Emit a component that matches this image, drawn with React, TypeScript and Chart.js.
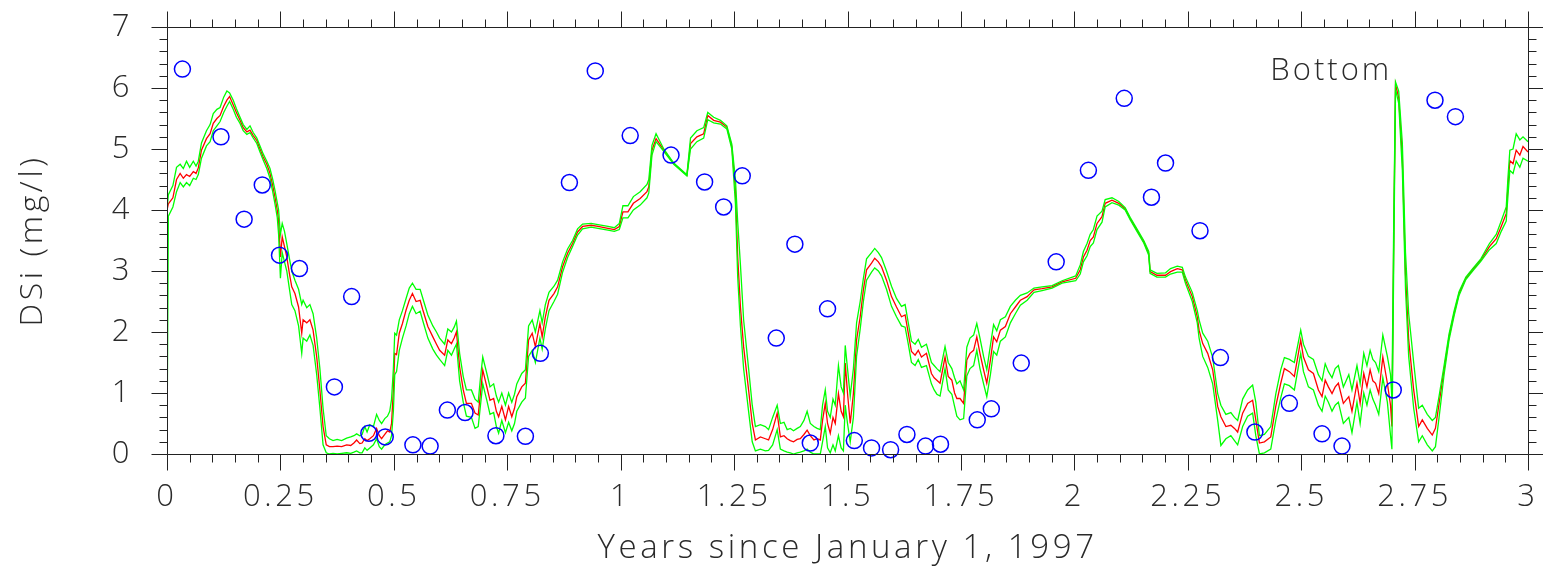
import React, { useEffect, useRef } from 'react';
import { Chart, registerables } from 'chart.js';

Chart.register(...registerables);

// Time (years since January 1, 1997)
const T = [
  0, 0.003, 0.013, 0.021, 0.029, 0.036, 0.043, 0.050, 0.058, 0.064,
  0.069, 0.076, 0.087, 0.095, 0.102, 0.110, 0.117, 0.125, 0.132, 0.138,
  0.146, 0.153, 0.161, 0.168, 0.176, 0.183, 0.190, 0.198, 0.205, 0.212,
  0.220, 0.227, 0.233, 0.238, 0.243, 0.246, 0.250, 0.254, 0.259, 0.264,
  0.270, 0.275, 0.282, 0.290, 0.297, 0.300, 0.308, 0.315, 0.322, 0.330,
  0.337, 0.344, 0.351, 0.358, 0.366, 0.375, 0.385, 0.396, 0.405, 0.412,
  0.418, 0.425, 0.430, 0.436, 0.441, 0.447, 0.455, 0.462, 0.468, 0.473,
  0.480, 0.486, 0.491, 0.495, 0.499, 0.502, 0.506, 0.512, 0.519, 0.527,
  0.534, 0.541, 0.549, 0.558, 0.564, 0.575, 0.586, 0.594, 0.601, 0.612,
  0.619, 0.627, 0.633, 0.638, 0.645, 0.653, 0.660, 0.671, 0.679, 0.686,
  0.691, 0.696, 0.705, 0.712, 0.720, 0.726, 0.731, 0.738, 0.746, 0.753,
  0.760, 0.766, 0.771, 0.782, 0.790, 0.797, 0.805, 0.812, 0.822, 0.827,
  0.834, 0.842, 0.853, 0.861, 0.872, 0.883, 0.894, 0.905, 0.916, 0.935,
  0.950, 0.972, 0.986, 0.997, 1.005, 1.016, 1.028, 1.043, 1.058, 1.062,
  1.069, 1.078, 1.095, 1.117, 1.146, 1.154, 1.168, 1.183, 1.192, 1.205,
  1.220, 1.234, 1.245, 1.253, 1.258, 1.264, 1.271, 1.282, 1.290, 1.297,
  1.308, 1.319, 1.326, 1.335, 1.345, 1.352, 1.360, 1.367, 1.374, 1.381,
  1.389, 1.396, 1.404, 1.411, 1.418, 1.426, 1.433, 1.440, 1.445, 1.451,
  1.456, 1.462, 1.468, 1.473, 1.480, 1.486, 1.491, 1.495, 1.500, 1.506,
  1.513, 1.520, 1.528, 1.535, 1.542, 1.553, 1.560, 1.568, 1.575, 1.586,
  1.597, 1.608, 1.619, 1.627, 1.634, 1.641, 1.649, 1.656, 1.663, 1.674,
  1.685, 1.691, 1.697, 1.704, 1.715, 1.722, 1.730, 1.736, 1.741, 1.748,
  1.756, 1.763, 1.770, 1.778, 1.785, 1.792, 1.800, 1.807, 1.815, 1.822,
  1.829, 1.837, 1.848, 1.859, 1.870, 1.881, 1.896, 1.911, 1.929, 1.951,
  1.973, 2.003, 2.013, 2.020, 2.028, 2.035, 2.042, 2.050, 2.061, 2.068,
  2.083, 2.098, 2.112, 2.123, 2.138, 2.153, 2.164, 2.167, 2.182, 2.201,
  2.212, 2.227, 2.238, 2.245, 2.260, 2.271, 2.275, 2.283, 2.294, 2.305,
  2.316, 2.323, 2.334, 2.345, 2.353, 2.360, 2.371, 2.382, 2.393, 2.400,
  2.408, 2.419, 2.433, 2.444, 2.455, 2.463, 2.474, 2.485, 2.499, 2.505,
  2.516, 2.527, 2.538, 2.546, 2.553, 2.560, 2.568, 2.575, 2.582, 2.593,
  2.605, 2.612, 2.623, 2.630, 2.638, 2.645, 2.652, 2.658, 2.664, 2.671,
  2.680, 2.690, 2.697, 2.700, 2.704, 2.708, 2.715, 2.723, 2.730, 2.737,
  2.748, 2.759, 2.767, 2.778, 2.789, 2.796, 2.804, 2.815, 2.826, 2.837,
  2.848, 2.863, 2.878, 2.896, 2.915, 2.930, 2.941, 2.952, 2.956, 2.960,
  2.967, 2.974, 2.982, 2.989, 3.000,
];

// Model DSi (mg/l), red
const MODEL = [
  4.00, 4.10, 4.20, 4.50, 4.60, 4.52, 4.58, 4.55, 4.63, 4.60,
  4.69, 4.98, 5.17, 5.25, 5.42, 5.50, 5.55, 5.70, 5.80, 5.86,
  5.72, 5.60, 5.47, 5.35, 5.28, 5.31, 5.22, 5.14, 5.00, 4.87,
  4.75, 4.60, 4.40, 4.21, 4.00, 3.83, 3.23, 3.56, 3.40, 3.23,
  2.95, 2.74, 2.63, 2.41, 1.98, 2.20, 2.15, 2.20, 2.03, 1.59,
  1.05, 0.45, 0.15, 0.12, 0.12, 0.13, 0.12, 0.15, 0.14, 0.18,
  0.23, 0.17, 0.18, 0.25, 0.22, 0.25, 0.30, 0.42, 0.30, 0.25,
  0.32, 0.38, 0.36, 0.50, 1.05, 1.65, 1.63, 1.98, 2.14, 2.36,
  2.52, 2.63, 2.50, 2.52, 2.36, 2.09, 1.92, 1.80, 1.70, 1.62,
  1.87, 1.81, 1.90, 2.00, 1.43, 1.05, 0.83, 0.83, 0.67, 0.64,
  1.00, 1.38, 1.10, 0.88, 0.91, 0.70, 0.61, 0.78, 0.56, 0.78,
  0.61, 0.75, 0.94, 1.10, 1.16, 1.87, 1.98, 1.76, 2.14, 1.92,
  2.25, 2.52, 2.63, 2.74, 3.07, 3.29, 3.45, 3.64, 3.73, 3.75,
  3.73, 3.70, 3.68, 3.73, 3.97, 3.97, 4.11, 4.19, 4.30, 4.38,
  4.98, 5.17, 4.98, 4.76, 4.57, 5.09, 5.20, 5.25, 5.55, 5.47,
  5.44, 5.36, 5.04, 4.32, 3.23, 2.41, 1.76, 1.05, 0.50, 0.23,
  0.28, 0.25, 0.23, 0.40, 0.67, 0.28, 0.30, 0.25, 0.22, 0.20,
  0.24, 0.25, 0.32, 0.39, 0.30, 0.23, 0.25, 0.23, 0.55, 0.83,
  0.50, 0.34, 0.60, 0.50, 0.99, 0.70, 0.61, 1.49, 1.00, 0.50,
  0.99, 1.87, 2.25, 2.69, 3.02, 3.13, 3.21, 3.15, 3.07, 2.85,
  2.58, 2.41, 2.25, 2.28, 1.98, 1.68, 1.62, 1.70, 1.59, 1.65,
  1.32, 1.25, 1.21, 1.16, 1.59, 1.27, 1.21, 1.00, 0.91, 0.91,
  0.83, 1.54, 1.65, 1.70, 1.92, 1.65, 1.38, 1.16, 1.54, 1.92,
  1.84, 2.03, 2.09, 2.30, 2.41, 2.52, 2.58, 2.69, 2.71, 2.74,
  2.82, 2.88, 3.02, 3.23, 3.34, 3.50, 3.56, 3.78, 3.89, 4.11,
  4.16, 4.11, 4.02, 3.86, 3.67, 3.48, 3.29, 2.99, 2.93, 2.93,
  2.99, 3.04, 3.02, 2.85, 2.58, 2.25, 2.03, 1.81, 1.65, 1.38,
  0.78, 0.61, 0.45, 0.47, 0.42, 0.36, 0.67, 0.83, 0.88, 0.56,
  0.18, 0.20, 0.28, 0.78, 1.16, 1.40, 1.35, 1.27, 1.87, 1.59,
  1.38, 1.32, 1.05, 0.94, 1.21, 1.10, 0.99, 1.10, 1.16, 0.83,
  0.94, 0.70, 1.16, 0.83, 1.32, 1.10, 1.38, 1.20, 1.16, 0.99,
  1.59, 1.16, 0.80, 0.45, 3.50, 6.06, 5.84, 4.86, 2.95, 1.87,
  1.05, 0.45, 0.56, 0.42, 0.31, 0.42, 0.83, 1.38, 1.92, 2.30,
  2.63, 2.88, 3.02, 3.18, 3.40, 3.53, 3.73, 3.94, 4.40, 4.81,
  4.76, 4.98, 4.90, 5.04, 4.95,
];

// Upper bound, green
const UPPER = [
  4.00, 4.25, 4.40, 4.70, 4.75, 4.68, 4.80, 4.70, 4.80, 4.72,
  4.80, 5.10, 5.30, 5.40, 5.58, 5.65, 5.68, 5.85, 5.95, 5.92,
  5.80, 5.66, 5.52, 5.40, 5.32, 5.38, 5.27, 5.18, 5.05, 4.92,
  4.80, 4.68, 4.50, 4.32, 4.12, 4.00, 3.60, 3.78, 3.65, 3.45,
  3.20, 3.00, 2.85, 2.70, 2.45, 2.52, 2.40, 2.45, 2.30, 1.90,
  1.40, 0.75, 0.30, 0.25, 0.22, 0.24, 0.22, 0.26, 0.28, 0.30,
  0.33, 0.30, 0.32, 0.45, 0.36, 0.48, 0.45, 0.65, 0.55, 0.50,
  0.58, 0.62, 0.70, 0.90, 1.40, 1.98, 1.95, 2.20, 2.35, 2.55,
  2.72, 2.80, 2.70, 2.70, 2.55, 2.28, 2.10, 2.00, 1.90, 1.80,
  2.05, 2.00, 2.08, 2.18, 1.65, 1.27, 1.05, 1.05, 0.90, 0.85,
  1.25, 1.59, 1.32, 1.10, 1.15, 0.95, 0.85, 1.00, 0.80, 1.00,
  0.85, 0.98, 1.15, 1.32, 1.38, 2.10, 2.20, 2.00, 2.35, 2.15,
  2.45, 2.65, 2.75, 2.85, 3.15, 3.36, 3.50, 3.69, 3.77, 3.78,
  3.76, 3.73, 3.71, 3.78, 4.07, 4.07, 4.22, 4.30, 4.42, 4.50,
  5.06, 5.25, 5.00, 4.77, 4.58, 5.18, 5.30, 5.35, 5.60, 5.52,
  5.47, 5.38, 5.08, 4.50, 3.80, 3.10, 2.20, 1.40, 0.80, 0.45,
  0.48, 0.45, 0.40, 0.60, 0.80, 0.50, 0.52, 0.40, 0.42, 0.38,
  0.42, 0.45, 0.55, 0.70, 0.50, 0.45, 0.42, 0.40, 0.80, 1.05,
  0.70, 0.60, 0.90, 0.80, 1.45, 1.10, 1.00, 1.78, 1.40, 0.95,
  1.40, 2.15, 2.50, 2.88, 3.20, 3.30, 3.37, 3.30, 3.22, 3.00,
  2.75, 2.55, 2.42, 2.45, 2.15, 1.85, 1.80, 1.88, 1.75, 1.80,
  1.50, 1.45, 1.40, 1.35, 1.76, 1.50, 1.40, 1.25, 1.15, 1.20,
  1.05, 1.75, 1.90, 1.95, 2.14, 1.90, 1.60, 1.38, 1.78, 2.12,
  2.02, 2.20, 2.25, 2.42, 2.52, 2.60, 2.64, 2.72, 2.74, 2.76,
  2.84, 2.92, 3.10, 3.32, 3.45, 3.60, 3.68, 3.90, 3.98, 4.17,
  4.20, 4.14, 4.04, 3.88, 3.69, 3.50, 3.32, 3.02, 2.96, 2.97,
  3.04, 3.08, 3.06, 2.90, 2.65, 2.35, 2.20, 1.98, 1.85, 1.58,
  0.99, 0.80, 0.65, 0.68, 0.60, 0.55, 0.90, 1.05, 1.13, 0.85,
  0.30, 0.32, 0.45, 0.98, 1.38, 1.58, 1.55, 1.50, 2.03, 1.80,
  1.60, 1.55, 1.30, 1.20, 1.48, 1.35, 1.25, 1.40, 1.45, 1.10,
  1.30, 1.05, 1.45, 1.15, 1.65, 1.45, 1.70, 1.55, 1.50, 1.35,
  1.95, 1.60, 1.30, 0.90, 3.80, 6.10, 5.95, 5.10, 3.30, 2.30,
  1.50, 0.75, 0.80, 0.65, 0.55, 0.60, 0.95, 1.45, 1.97, 2.34,
  2.66, 2.90, 3.04, 3.20, 3.45, 3.60, 3.82, 4.05, 4.55, 4.98,
  5.00, 5.25, 5.15, 5.20, 5.12,
];

// Lower bound, green
const LOWER = [
  0.00, 3.90, 4.05, 4.30, 4.45, 4.38, 4.45, 4.40, 4.52, 4.50,
  4.58, 4.85, 5.05, 5.12, 5.30, 5.38, 5.45, 5.60, 5.70, 5.78,
  5.65, 5.52, 5.42, 5.30, 5.24, 5.27, 5.18, 5.09, 4.95, 4.82,
  4.68, 4.52, 4.30, 4.10, 3.88, 3.60, 2.88, 3.30, 3.15, 3.00,
  2.70, 2.45, 2.35, 2.10, 1.65, 1.90, 1.85, 1.95, 1.78, 1.30,
  0.75, 0.15, 0.02, 0.00, 0.01, 0.00, 0.01, 0.02, 0.01, 0.03,
  0.05, 0.02, 0.02, 0.10, 0.06, 0.10, 0.15, 0.25, 0.12, 0.08,
  0.15, 0.18, 0.20, 0.30, 0.70, 1.30, 1.35, 1.70, 1.90, 2.10,
  2.30, 2.42, 2.30, 2.34, 2.18, 1.90, 1.72, 1.62, 1.55, 1.45,
  1.70, 1.62, 1.72, 1.80, 1.20, 0.85, 0.62, 0.60, 0.42, 0.45,
  0.80, 1.15, 0.88, 0.65, 0.68, 0.45, 0.34, 0.55, 0.35, 0.52,
  0.38, 0.50, 0.70, 0.85, 0.92, 1.60, 1.70, 1.50, 1.90, 1.72,
  2.05, 2.35, 2.50, 2.62, 2.98, 3.22, 3.40, 3.59, 3.69, 3.72,
  3.70, 3.67, 3.65, 3.68, 3.87, 3.87, 4.00, 4.08, 4.20, 4.28,
  4.90, 5.12, 4.96, 4.75, 4.56, 5.00, 5.12, 5.18, 5.48, 5.43,
  5.41, 5.33, 5.00, 4.10, 2.90, 2.10, 1.40, 0.70, 0.20, 0.05,
  0.08, 0.05, 0.06, 0.15, 0.40, 0.08, 0.05, 0.03, 0.02, 0.00,
  0.02, 0.03, 0.05, 0.08, 0.03, 0.00, 0.00, 0.00, 0.20, 0.45,
  0.10, 0.02, 0.15, 0.05, 0.30, 0.10, 0.05, 0.80, 0.50, 0.20,
  0.60, 1.60, 2.05, 2.50, 2.85, 2.98, 3.05, 3.00, 2.92, 2.70,
  2.42, 2.25, 2.10, 2.08, 1.80, 1.50, 1.45, 1.55, 1.42, 1.45,
  1.15, 1.05, 0.98, 0.95, 1.40, 1.05, 0.98, 0.78, 0.62, 0.56,
  0.58, 1.28, 1.40, 1.45, 1.70, 1.40, 1.15, 0.94, 1.30, 1.68,
  1.62, 1.85, 1.92, 2.15, 2.30, 2.44, 2.52, 2.65, 2.68, 2.72,
  2.80, 2.84, 2.95, 3.15, 3.25, 3.40, 3.46, 3.68, 3.80, 4.05,
  4.12, 4.08, 4.00, 3.84, 3.65, 3.46, 3.26, 2.96, 2.90, 2.90,
  2.95, 2.98, 2.98, 2.80, 2.50, 2.15, 1.90, 1.60, 1.42, 1.15,
  0.55, 0.14, 0.25, 0.30, 0.22, 0.15, 0.45, 0.62, 0.67, 0.30,
  0.00, 0.02, 0.08, 0.55, 0.92, 1.15, 1.12, 1.05, 1.65, 1.35,
  1.10, 1.05, 0.80, 0.70, 0.95, 0.85, 0.70, 0.80, 0.85, 0.50,
  0.60, 0.35, 0.85, 0.50, 1.00, 0.80, 1.05, 0.90, 0.80, 0.65,
  1.25, 0.85, 0.30, 0.08, 3.10, 5.98, 5.75, 4.65, 2.70, 1.60,
  0.75, 0.20, 0.30, 0.15, 0.05, 0.12, 0.60, 1.30, 1.87, 2.26,
  2.60, 2.86, 3.00, 3.16, 3.35, 3.45, 3.65, 3.82, 4.25, 4.65,
  4.60, 4.80, 4.70, 4.85, 4.80,
];

// Observations, blue circles
const OBS_T = [
  0.034, 0.119, 0.170, 0.210, 0.248, 0.292, 0.369, 0.407, 0.445, 0.481,
  0.542, 0.580, 0.618, 0.657, 0.725, 0.790, 0.823, 0.887, 0.944, 1.021,
  1.111, 1.185, 1.227, 1.268, 1.343, 1.384, 1.418, 1.456, 1.515, 1.553,
  1.595, 1.631, 1.672, 1.705, 1.786, 1.817, 1.883, 1.960, 2.031, 2.110,
  2.170, 2.201, 2.277, 2.322, 2.398, 2.474, 2.546, 2.590, 2.703, 2.795,
  2.840,
];
const OBS_Y = [
  6.31, 5.20, 3.85, 4.41, 3.26, 3.04, 1.10, 2.58, 0.34, 0.28,
  0.15, 0.13, 0.72, 0.68, 0.30, 0.29, 1.65, 4.45, 6.28, 5.22,
  4.90, 4.46, 4.05, 4.56, 1.90, 3.44, 0.18, 2.38, 0.22, 0.10,
  0.07, 0.32, 0.13, 0.16, 0.56, 0.74, 1.49, 3.15, 4.65, 5.83,
  4.21, 4.77, 3.66, 1.58, 0.36, 0.83, 0.33, 0.13, 1.05, 5.80,
  5.53,
];

const X_MIN = 0;
const X_MAX = 3;
const Y_MIN = 0;
const Y_MAX = 7;
const X_MAJOR = 0.25;
const X_MINOR = 0.05;
const Y_MAJOR = 1;
const Y_MINOR = 0.2;

const X_TITLE = 'Years since January 1, 1997';
const Y_TITLE = 'DSi (mg/l)';
const NOTE_TEXT = 'Bottom';
const NOTE_X = 2.432;
const NOTE_Y = 6.13;

const FONT_FAMILY = "'Open Sans', 'DejaVu Sans', sans-serif";
const TEXT_COLOR = '#2a2a2a';
const LETTER_SPACING = '3.6px';

const spacingPlugin = {
  id: 'letterSpacing',
  beforeDraw(chart: any) {
    try {
      (chart.ctx as any).letterSpacing = LETTER_SPACING;
    } catch (e) {
      /* ignore */
    }
  },
};

const framePlugin = {
  id: 'frameTicks',
  afterDraw(chart: any) {
    const { ctx, chartArea: a, scales } = chart;
    const xs = scales.x;
    const ys = scales.y;
    const L = Math.round(a.left) + 0.5;
    const R = Math.round(a.right) + 0.5;
    const TOP = Math.round(a.top) + 0.5;
    const B = Math.round(a.bottom) + 0.5;
    ctx.save();
    ctx.strokeStyle = '#222';
    ctx.lineWidth = 1;
    ctx.beginPath();
    ctx.moveTo(L, TOP);
    ctx.lineTo(R, TOP);
    ctx.lineTo(R, B);
    ctx.lineTo(L, B);
    ctx.closePath();
    const nx = Math.round((X_MAX - X_MIN) / X_MINOR);
    const per = Math.round(X_MAJOR / X_MINOR);
    for (let i = 0; i <= nx; i++) {
      const v = X_MIN + i * X_MINOR;
      const px = Math.round(xs.getPixelForValue(v)) + 0.5;
      const len = i % per === 0 ? 16 : 8;
      ctx.moveTo(px, B);
      ctx.lineTo(px, B + len);
      ctx.moveTo(px, TOP);
      ctx.lineTo(px, TOP - len);
    }
    const ny = Math.round((Y_MAX - Y_MIN) / Y_MINOR);
    const pery = Math.round(Y_MAJOR / Y_MINOR);
    for (let i = 0; i <= ny; i++) {
      const v = Y_MIN + i * Y_MINOR;
      const py = Math.round(ys.getPixelForValue(v)) + 0.5;
      const len = i % pery === 0 ? 16 : 8;
      ctx.moveTo(L, py);
      ctx.lineTo(L - len, py);
      ctx.moveTo(R, py);
      ctx.lineTo(R + len, py);
    }
    ctx.stroke();
    ctx.fillStyle = TEXT_COLOR;
    ctx.font = `300 31px ${FONT_FAMILY}`;
    try {
      (ctx as any).letterSpacing = '3px';
    } catch (e) {
      /* ignore */
    }
    ctx.textAlign = 'left';
    ctx.textBaseline = 'alphabetic';
    ctx.fillText(NOTE_TEXT, xs.getPixelForValue(NOTE_X), ys.getPixelForValue(NOTE_Y));
    ctx.restore();
  },
};

export default function App() {
  const canvasRef = useRef<HTMLCanvasElement | null>(null);

  useEffect(() => {
    const canvas = canvasRef.current;
    if (!canvas) return;
    const toXY = (ys: number[]) => T.map((t, i) => ({ x: t, y: ys[i] }));
    const obs = OBS_T.map((t, i) => ({ x: t, y: OBS_Y[i] }));
    const tickFont = { family: FONT_FAMILY, size: 31, weight: '300' as any };
    const chart = new Chart(canvas, {
      type: 'scatter',
      data: {
        datasets: [
          {
            label: 'Observed',
            data: obs,
            showLine: false,
            pointRadius: 8,
            pointHoverRadius: 8,
            pointBorderWidth: 1.5,
            pointBorderColor: '#0000ff',
            pointBackgroundColor: 'rgba(0,0,0,0)',
            borderColor: '#0000ff',
            backgroundColor: 'rgba(0,0,0,0)',
            clip: false as any,
            order: 0,
          },
          {
            label: 'Upper',
            data: toXY(UPPER),
            showLine: true,
            pointRadius: 0,
            borderColor: '#00ff00',
            borderWidth: 1.3,
            tension: 0,
            order: 1,
          },
          {
            label: 'Lower',
            data: toXY(LOWER),
            showLine: true,
            pointRadius: 0,
            borderColor: '#00ff00',
            borderWidth: 1.3,
            tension: 0,
            order: 1,
          },
          {
            label: 'Model',
            data: toXY(MODEL),
            showLine: true,
            pointRadius: 0,
            borderColor: '#ff0000',
            borderWidth: 1.3,
            tension: 0,
            order: 2,
          },
        ],
      },
      options: {
        animation: false,
        responsive: false,
        maintainAspectRatio: false,
        layout: { padding: { top: 27, right: 15, bottom: 0, left: 0 } },
        plugins: {
          legend: { display: false },
          tooltip: { enabled: false },
        },
        scales: {
          x: {
            type: 'linear',
            position: 'bottom',
            min: X_MIN,
            max: X_MAX,
            grid: { display: false, drawTicks: false },
            border: { display: false },
            ticks: {
              stepSize: X_MAJOR,
              padding: 25,
              color: TEXT_COLOR,
              font: tickFont,
              maxRotation: 0,
              autoSkip: false,
              callback: (v: any) => String(+Number(v).toFixed(2)),
            },
            title: {
              display: true,
              text: X_TITLE,
              color: TEXT_COLOR,
              font: { family: FONT_FAMILY, size: 33, weight: '300' as any },
              padding: { top: 0, bottom: 1 },
            },
            afterFit: (s: any) => {
              s.height = 115;
              s.paddingLeft = 0;
              s.paddingRight = 0;
            },
          },
          y: {
            type: 'linear',
            position: 'left',
            min: Y_MIN,
            max: Y_MAX,
            grid: { display: false, drawTicks: false },
            border: { display: false },
            ticks: {
              stepSize: Y_MAJOR,
              padding: 34,
              color: TEXT_COLOR,
              font: tickFont,
              callback: (v: any) => String(v),
            },
            title: {
              display: true,
              text: Y_TITLE,
              color: TEXT_COLOR,
              font: { family: FONT_FAMILY, size: 32, weight: '300' as any },
              padding: { top: 14, bottom: 0 },
            },
            afterFit: (s: any) => {
              s.width = 167;
              s.paddingTop = 0;
              s.paddingBottom = 0;
            },
          },
        },
      },
      plugins: [spacingPlugin, framePlugin],
    });
    return () => chart.destroy();
  }, []);

  return (
    <div style={{ position: 'absolute', left: 0, top: 0, width: 1543, height: 569, background: '#fff' }}>
      <canvas ref={canvasRef} width={1543} height={569} style={{ display: 'block' }} />
    </div>
  );
}
